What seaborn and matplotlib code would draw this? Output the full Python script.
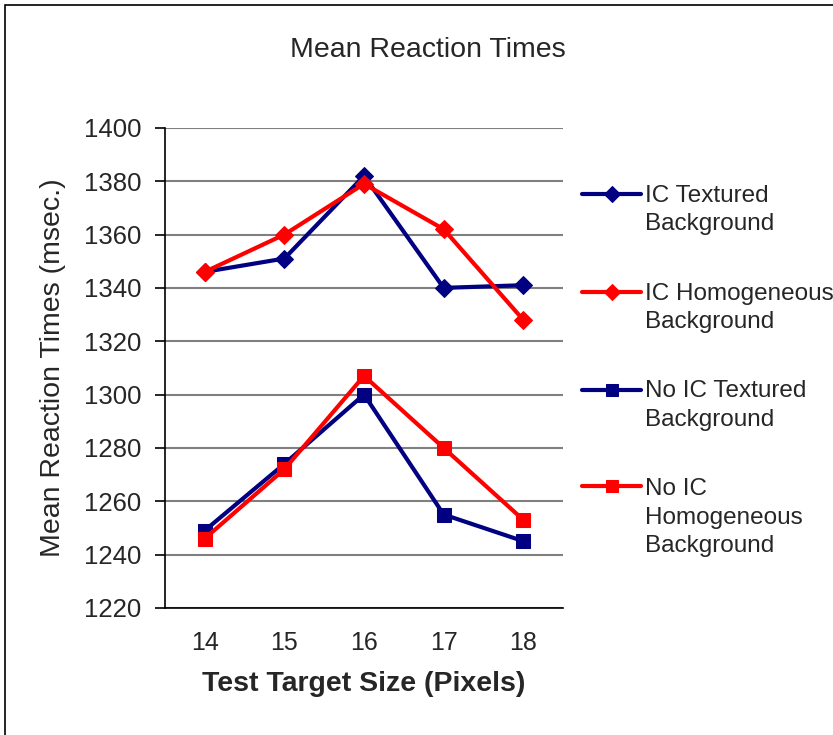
import matplotlib
matplotlib.use("Agg")
import matplotlib.pyplot as plt
from matplotlib.patches import Rectangle
from matplotlib.legend_handler import HandlerLine2D
import pandas as pd
import seaborn as sns

# data
sizes = [14, 15, 16, 17, 18]
ic_textured = [1346, 1351, 1382, 1340, 1341]
ic_homogeneous = [1346, 1360, 1379, 1362, 1328]
noic_textured = [1249, 1274, 1300, 1255, 1245]
noic_homogeneous = [1246, 1272, 1307, 1280, 1253]

labels = ["IC Textured\nBackground", "IC Homogeneous\nBackground",
          "No IC Textured\nBackground", "No IC\nHomogeneous\nBackground"]
colors = ["#000080", "#FF0000", "#000080", "#FF0000"]
markers = ["D", "D", "s", "s"]
series = [ic_textured, ic_homogeneous, noic_textured, noic_homogeneous]

LEG_LS = 1.38  # line spacing of legend labels


class TopLineHandler(HandlerLine2D):
    """put the legend handle next to the first line of a multi-line label"""
    def __init__(self, nlines, msize, **kw):
        super().__init__(**kw)
        self.nlines = nlines
        self.msize = msize

    def create_artists(self, legend, orig_handle, xdescent, ydescent,
                       width, height, fontsize, trans):
        shift = (self.nlines - 1) * 0.47 * LEG_LS * fontsize
        arts = super().create_artists(legend, orig_handle, xdescent,
                                      ydescent - 2 * shift, width, height,
                                      fontsize, trans)
        arts[-1].set_markersize(self.msize)
        return arts


sns.set_style("white")
plt.rcParams["font.family"] = ["Liberation Sans", "DejaVu Sans"]

fig = plt.figure(figsize=(8.33, 7.35), dpi=100)
ax = fig.add_axes([0.198, 0.173, 0.478, 0.653])

for vals, lab, col, mk in zip(series, labels, colors, markers):
    df = pd.DataFrame({"size": sizes, "rt": vals})
    sns.lineplot(x="size", y="rt", data=df, ax=ax, color=col, marker=mk,
                 markersize=9 if mk == "D" else 9.5, markeredgecolor=col,
                 linewidth=3, label=lab)

ax.set_xlim(13.5, 18.5)
ax.set_ylim(1220, 1400)
ax.set_yticks(range(1220, 1401, 20))
ax.set_xticks(sizes)
ax.set_xticks([13.5, 14.5, 15.5, 16.5, 17.5, 18.5], minor=True)
ax.tick_params(axis="x", which="major", length=0, labelsize=18, pad=17)
ax.tick_params(axis="x", which="minor", length=7, width=1.2, direction="out", color="black")
ax.tick_params(axis="y", length=7, width=1.2, direction="out", color="black",
               labelsize=18.5, pad=10, left=True)
ax.yaxis.grid(True, color="#808080", linewidth=1.5)
ax.set_axisbelow(True)
for s in ["top", "right"]:
    ax.spines[s].set_visible(False)
for s in ["left", "bottom"]:
    ax.spines[s].set_color("black")
    ax.spines[s].set_linewidth(1.2)

ax.set_xlabel("Test Target Size (Pixels)", fontsize=20.5, fontweight="bold", labelpad=11)
ax.set_ylabel("Mean Reaction Times (msec.)", fontsize=20.5, labelpad=12.5)

handles, labs = ax.get_legend_handles_labels()
hmap = {h: TopLineHandler(l.count("\n") + 1, 8 if m == "D" else 8.5)
        for h, l, m in zip(handles, labs, markers)}
leg = ax.legend(handles, labs, handler_map=hmap, loc="upper left",
                bbox_to_anchor=(1.024, 0.902), frameon=False, fontsize=17.5,
                handlelength=2.4, handletextpad=0.17, labelspacing=1.95,
                borderaxespad=0)
for t in leg.get_texts():
    t.set_linespacing(LEG_LS)

fig.text(0.514, 0.932, "Mean Reaction Times", ha="center", va="center", fontsize=20.5)
fig.patches.append(Rectangle((0.006, -0.01), 1.1, 1.003, transform=fig.transFigure,
                             fill=False, edgecolor="black", linewidth=1.2))

fig.savefig("out.png", dpi=100)
